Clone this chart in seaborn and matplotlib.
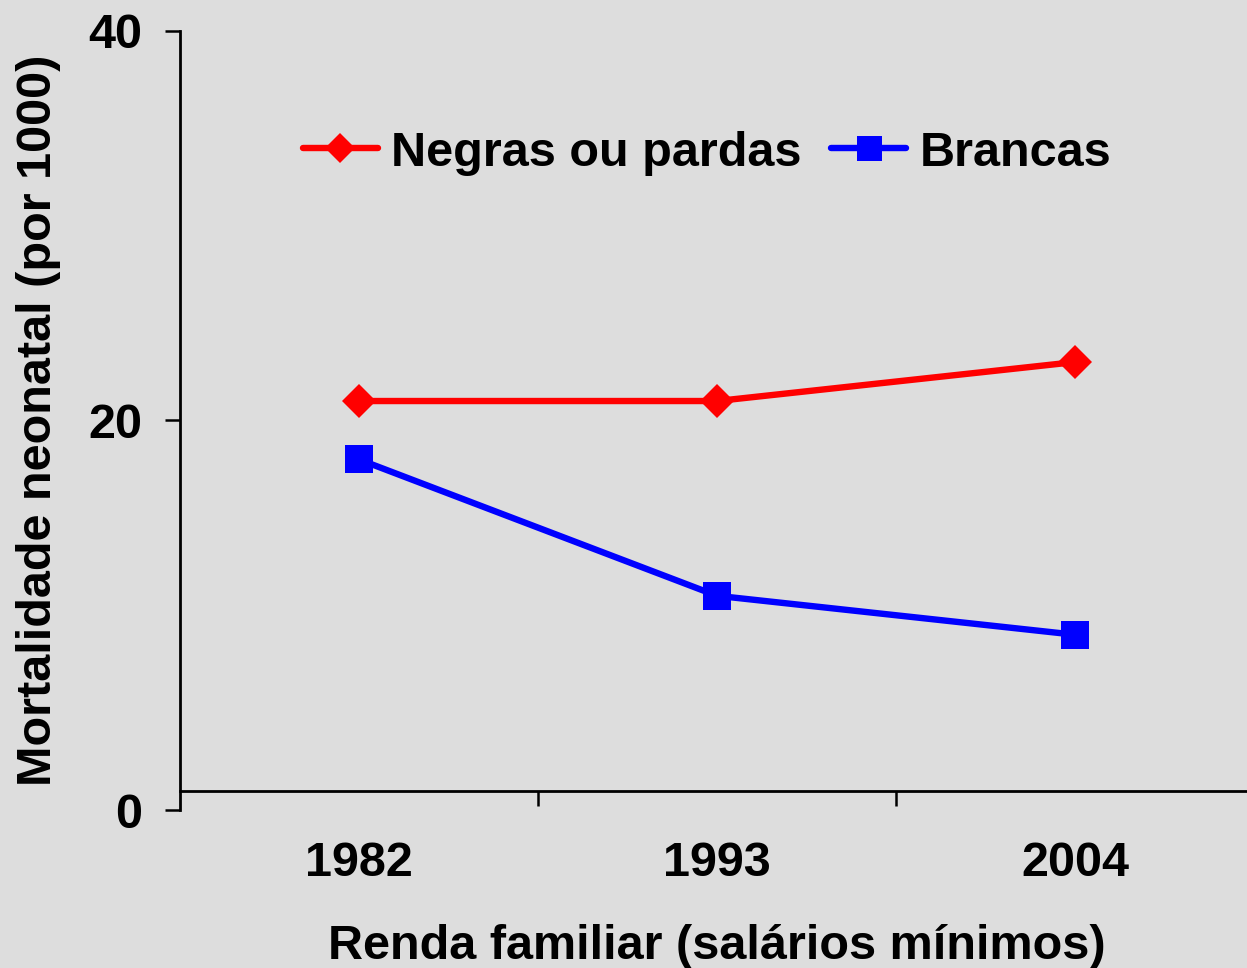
import matplotlib
matplotlib.use("Agg")
import matplotlib.pyplot as plt
import seaborn as sns

# dados
anos = ["1982", "1993", "2004"]
negras_pardas = [21, 21, 23]
brancas = [18, 11, 9]

fundo = "#dddddd"
sns.set_style("white", {"axes.facecolor": fundo, "figure.facecolor": fundo,
                        "text.color": "black", "axes.labelcolor": "black",
                        "xtick.color": "black", "ytick.color": "black"})
plt.rcParams["font.family"] = ["Liberation Sans", "DejaVu Sans"]
plt.rcParams["font.weight"] = "bold"

fig = plt.figure(figsize=(12.47, 9.68), dpi=100)
ax = fig.add_axes([180 / 1247, 158 / 968, 1074 / 1247, 779 / 968])

sns.lineplot(x=anos, y=negras_pardas, ax=ax, color="#ff0000", linewidth=4.6,
             marker="D", markersize=17, markeredgewidth=0, label="Negras ou pardas")
sns.lineplot(x=anos, y=brancas, ax=ax, color="#0000ff", linewidth=4.6,
             marker="s", markersize=20, markeredgewidth=0, label="Brancas")

ax.set_xlim(-0.5, 2.5)
ax.set_ylim(0, 40)
ax.set_yticks([0, 20, 40])
ax.set_xticks([0, 1, 2])
ax.set_xticklabels(anos, fontweight="bold")
ax.set_xticks([0.5, 1.5], minor=True)
ax.tick_params(axis="x", which="major", bottom=True, length=0, pad=36, labelsize=35, labelcolor="black")
ax.tick_params(axis="x", which="minor", bottom=True, length=11, width=1.8, direction="out", color="black")
ax.tick_params(axis="y", left=True, length=11, width=1.8, direction="out", pad=16, labelsize=35,
               color="black", labelcolor="black")

for s in ["top", "right"]:
    ax.spines[s].set_visible(False)
ax.spines["bottom"].set_position(("data", 1))
for s in ["left", "bottom"]:
    ax.spines[s].set_color("black")
    ax.spines[s].set_linewidth(2)

ax.set_xlabel("Renda familiar (salários mínimos)", fontsize=35, fontweight="bold", labelpad=28, color="black")
ax.set_ylabel("Mortalidade neonatal (por 1000)", fontsize=35, fontweight="bold", labelpad=20, color="black")

ax.legend(loc="center", bbox_to_anchor=(707 / 1247, 815 / 968), bbox_transform=fig.transFigure,
          ncol=2, frameon=False, fontsize=35, handlelength=1.55, handletextpad=0.27,
          columnspacing=0.6, markerscale=0.9, labelcolor="black")

fig.savefig("out.png", dpi=100, facecolor=fundo)
